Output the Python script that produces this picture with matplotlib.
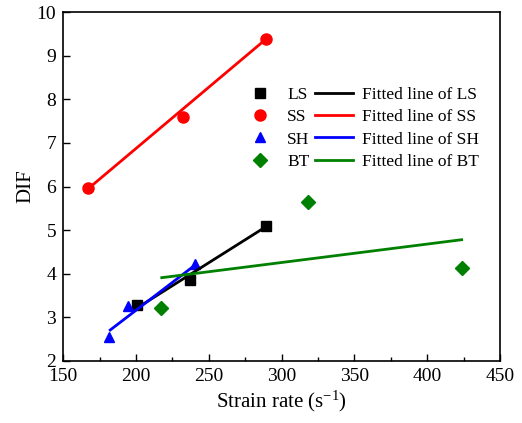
import numpy as np
import matplotlib.pyplot as plt

plt.rcParams['font.family'] = ['Liberation Serif', 'DejaVu Serif']
plt.rcParams['mathtext.fontset'] = 'stix'

# measured points
ls_x = [200.5, 237.2, 289.3]
ls_y = [3.28, 3.86, 5.10]
ss_x = [167.2, 232.4, 289.3]
ss_y = [5.97, 7.60, 9.38]
sh_x = [181.8, 194.8, 240.6]
sh_y = [2.54, 3.27, 4.22]
bt_x = [217.3, 318.0, 424.0]
bt_y = [3.22, 5.65, 4.14]

# fitted line endpoints
ls_fx = [200.0, 289.3]
ls_fy = [3.20, 5.08]
ss_fx = [167.2, 289.3]
ss_fy = [5.95, 9.38]
sh_fx = [182.3, 240.6]
sh_fy = [2.71, 4.20]
bt_fx = [217.7, 423.6]
bt_fy = [3.91, 4.78]

fig = plt.figure(figsize=(5.22, 4.23), dpi=100)
ax = fig.add_axes([0.121, 0.1466, 0.837, 0.825])

m1, = ax.plot(ls_x, ls_y, 's', color='black', ms=7, ls='none', label='LS')
m2, = ax.plot(ss_x, ss_y, 'o', color='red', ms=8, ls='none', label='SS')
m3, = ax.plot(sh_x, sh_y, '^', color='blue', ms=7, ls='none', label='SH')
m4, = ax.plot(bt_x, bt_y, 'D', color='#008000', ms=7, ls='none', label='BT')
l1, = ax.plot(ls_fx, ls_fy, color='black', lw=2, label='Fitted line of LS')
l2, = ax.plot(ss_fx, ss_fy, color='red', lw=2, label='Fitted line of SS')
l3, = ax.plot(sh_fx, sh_fy, color='blue', lw=2, label='Fitted line of SH')
l4, = ax.plot(bt_fx, bt_fy, color='#008000', lw=2, label='Fitted line of BT')

ax.set_xlim(150, 450)
ax.set_ylim(2, 10)
ax.set_xticks(np.arange(150, 451, 50))
ax.set_xticks(np.arange(175, 450, 50), minor=True)
ax.set_yticks(np.arange(2, 11, 1))
ax.tick_params(direction='in', labelsize=14, length=5, width=1, pad=5)
ax.tick_params(which='minor', direction='in', length=3, width=1)
for s in ax.spines.values():
    s.set_linewidth(1.2)

ax.set_xlabel(r'Strain rate (s$\mathregular{^{-1}}$)', fontsize=15, labelpad=3)
ax.set_ylabel('DIF', fontsize=15, labelpad=1)

ax.legend(handles=[m1, m2, m3, m4, l1, l2, l3, l4], ncol=2, frameon=False,
          fontsize=12.5, loc='upper left', bbox_to_anchor=(0.37, 0.83),
          handlelength=2.2, handletextpad=0.5, columnspacing=0.3,
          labelspacing=0.35)

fig.savefig('out.png', dpi=100)
